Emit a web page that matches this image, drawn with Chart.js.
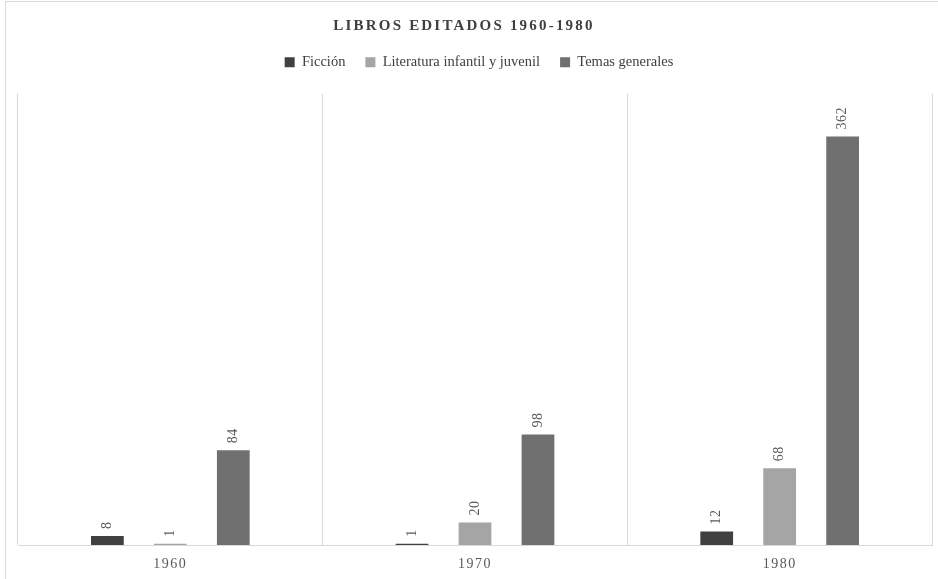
<!DOCTYPE html>
<html>
<head>
<meta charset="utf-8">
<script src="https://cdn.jsdelivr.net/npm/chart.js@4.4.1/dist/chart.umd.min.js"></script>
<style>
  html, body { margin: 0; padding: 0; background: #fff; }
  #wrap { position: relative; width: 938px; height: 579px; overflow: hidden; }
  #frame { position: absolute; left: 5px; top: 1px; width: 960px; height: 600px; border: 1px solid #d9d9d9; box-sizing: border-box; }
  #chart { position: absolute; left: 0; top: 0; }
</style>
</head>
<body>
<div id="wrap">
  <div id="frame"></div>
  <canvas id="chart" width="938" height="579"></canvas>
</div>
<script>
// datos
const years = ["1960", "1970", "1980"];
const ficcion = [8, 1, 12];
const infantil = [1, 20, 68];
const generales = [84, 98, 362];

const serif = "'Liberation Serif', 'DejaVu Serif', serif";

// etiquetas de valor giradas sobre cada barra
const valueLabels = {
    id: "valueLabels",
    afterDatasetsDraw(chart) {
        const ctx = chart.ctx;
        ctx.save();
        ctx.font = "14px " + serif;
        ctx.fillStyle = "#595959";
        ctx.textAlign = "left";
        ctx.textBaseline = "middle";
        ctx.letterSpacing = "0.5px";
        chart.data.datasets.forEach((ds, i) => {
            chart.getDatasetMeta(i).data.forEach((bar, j) => {
                ctx.save();
                ctx.translate(bar.x, bar.y - 7);
                ctx.rotate(-Math.PI / 2);
                ctx.fillText(String(ds.data[j]), 0, 0);
                ctx.restore();
            });
        });
        ctx.restore();
    }
};

// espaciado de letras para título y años, y aire bajo la leyenda
const tweaks = {
    id: "tweaks",
    afterInit(chart) {
        const lg = chart.legend;
        if (lg && !lg._extra) {
            const fit = lg.fit;
            lg.fit = function () {
                fit.apply(this, arguments);
                this.height += 14;
            };
            lg._extra = true;
        }
    },
    afterLayout(chart) {
        const patch = (obj, name, sp, dx) => {
            if (!obj || obj["_sp_" + name]) return;
            const orig = obj[name];
            obj[name] = function () {
                const c = chart.ctx;
                c.save();
                c.letterSpacing = sp;
                c.translate(dx, 0);
                orig.apply(this, arguments);
                c.restore();
            };
            obj["_sp_" + name] = true;
        };
        patch(chart.titleBlock, "draw", "2.2px", -11);
        patch(chart.legend, "draw", "0px", 4);
        patch(chart.scales.x, "drawLabels", "1.5px", 0);
    }
};

const ctx = document.getElementById("chart").getContext("2d");
new Chart(ctx, {
    type: "bar",
    data: {
        labels: years,
        datasets: [
            { label: "Ficción", data: ficcion, backgroundColor: "#404040" },
            { label: "Literatura infantil y juvenil", data: infantil, backgroundColor: "#a5a5a5" },
            { label: "Temas generales", data: generales, backgroundColor: "#707070" }
        ]
    },
    options: {
        responsive: false,
        animation: false,
        devicePixelRatio: 1,
        categoryPercentage: 0.62,
        barPercentage: 0.52,
        layout: { padding: { left: 18, right: 6, top: 2, bottom: -4 } },
        plugins: {
            title: {
                display: true,
                text: "LIBROS EDITADOS 1960-1980",
                color: "#404040",
                font: { family: serif, size: 15, weight: "bold" },
                padding: { top: 15, bottom: 0 }
            },
            legend: {
                position: "top",
                labels: {
                    color: "#404040",
                    font: { family: serif, size: 14.5 },
                    boxWidth: 10,
                    boxHeight: 10,
                    padding: 20
                }
            },
            tooltip: { enabled: false }
        },
        scales: {
            x: {
                grid: { display: true, offset: true, color: "#d9d9d9", drawTicks: false },
                border: { display: true, color: "#d9d9d9" },
                ticks: {
                    color: "#595959",
                    font: { family: serif, size: 14, lineHeight: 1 },
                    padding: 12
                }
            },
            y: {
                display: false,
                min: 0,
                max: 400
            }
        }
    },
    plugins: [valueLabels, tweaks]
});
</script>
</body>
</html>
